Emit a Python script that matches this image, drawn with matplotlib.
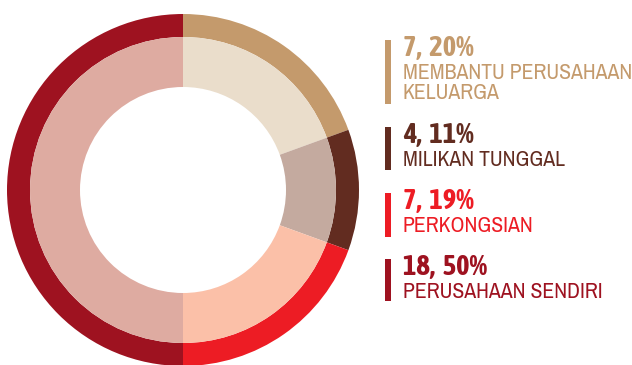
import matplotlib
matplotlib.use("Agg")
import matplotlib.pyplot as plt
from matplotlib import font_manager

# Business ownership breakdown
categories = ["MEMBANTU PERUSAHAAN\nKELUARGA", "MILIKAN TUNGGAL", "PERKONGSIAN", "PERUSAHAAN SENDIRI"]
counts = [7, 4, 7, 18]
percents = [20, 11, 19, 50]

outer_colors = ["#C49A6C", "#622C20", "#ED1C24", "#9E1220"]
inner_colors = ["#EADDCB", "#C4AA9F", "#FBC0A8", "#DEABA1"]

# prefer a narrow sans face when one is available
faces = font_manager.fontManager.ttflist
installed = sorted({f.name for f in faces})
narrow = [n for n in installed if ("Condensed" in n or "Narrow" in n) and "Mono" not in n and "Serif" not in n]


def has_bold(name):
    return any(f.name == name and f.weight in (700, "bold") for f in faces)


narrow_bold = [n for n in narrow if has_bold(n)]
body_family = narrow[:1] + ["Roboto", "DejaVu Sans"]
head_family = (narrow_bold or narrow)[:1] + ["Roboto", "DejaVu Sans"]

W, H = 632, 365
fig = plt.figure(figsize=(W / 100, H / 100), dpi=100)
ax = fig.add_axes([0, 0, 1, 1])

cx, cy = 183, 190
r_outer, ring_outer = 176, 23
r_inner, ring_inner = 153, 50

ax.pie(counts, radius=r_outer, center=(cx, H - cy), startangle=90, counterclock=False,
       colors=outer_colors, frame=True,
       wedgeprops=dict(width=ring_outer, linewidth=0))
ax.pie(counts, radius=r_inner, center=(cx, H - cy), startangle=90, counterclock=False,
       colors=inner_colors, frame=True,
       wedgeprops=dict(width=ring_inner, linewidth=0))

ax.set_xlim(0, W)
ax.set_ylim(0, H)
ax.set_aspect("equal")
ax.axis("off")

renderer = fig.canvas.get_renderer()


def fitted_size(sample, weight, fam, target_px, base=16.0):
    t = ax.text(0, 0, sample, fontsize=base, fontweight=weight, family=fam)
    w = t.get_window_extent(renderer).width
    t.remove()
    return base * target_px / w


head_size = min(20.5, fitted_size("18,  50%", "bold", head_family, 97))
body_size = min(16.0, fitted_size("MILIKAN TUNGGAL", "normal", body_family, 162))

# legend blocks: (top of block, bottom of block) in pixels from top
blocks = [(40, 104), (127, 170), (193, 237), (259, 301)]
for (top, bottom), cat, n, p, col in zip(blocks, categories, counts, percents, outer_colors):
    ax.fill_between([385, 391], H - bottom, H - top, color=col, linewidth=0)
    ax.text(403, H - top + 5, f"{n},  {p}%", color=col, fontsize=head_size, fontweight="bold",
            family=head_family, va="top", ha="left")
    ax.text(403, H - top - 23, cat, color=col, fontsize=body_size, family=body_family,
            va="top", ha="left", linespacing=1.0)

fig.savefig("out.png", dpi=100)
